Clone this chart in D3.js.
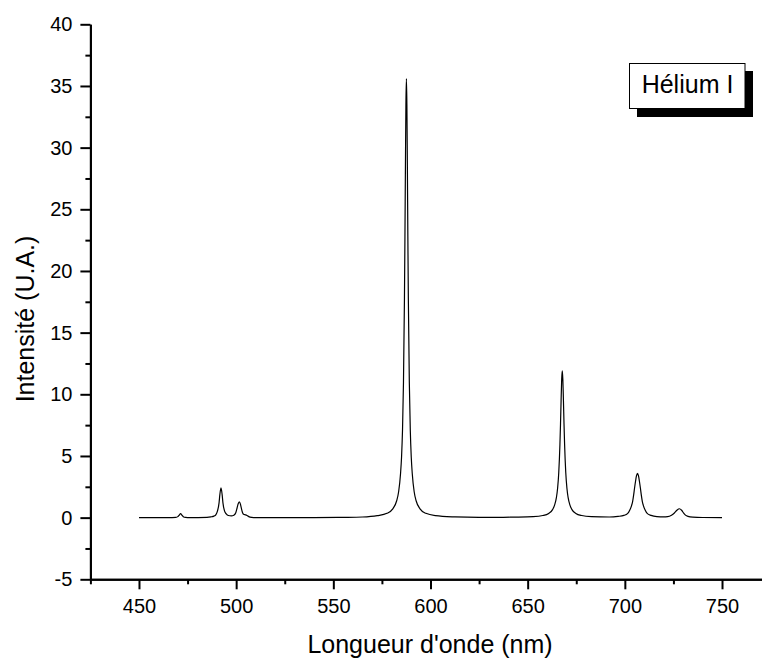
<!DOCTYPE html>
<html>
<head>
<meta charset="utf-8">
<title>Hélium I</title>
<script src="https://cdn.jsdelivr.net/npm/d3@7"></script>
<style>
  body { margin: 0; background: #fff; }
  svg { font-family: "Liberation Sans", Arial, sans-serif; }
</style>
</head>
<body>
<div id="container"></div>
<script>
  // Spectrum: wavelength (nm) and intensity (U.A.)
  const wavelength = [
    450, 465, 469, 470, 470.7, 471.4, 472.1, 472.8, 474, 476,
    485, 487, 488.5, 489.6, 490.4, 491.2, 491.6, 492.2, 492.8, 493.2, 494, 494.9, 496, 497.5,
    498.8, 499.8, 500.5, 501, 501.6, 502.2, 502.7, 503.3, 504, 504.8, 505.6, 506.5, 508, 510,
    540, 555, 565, 572.6, 577.6, 580.6, 582.6, 583.6, 584.6, 585.1, 585.6, 586.1, 586.6, 586.85,
    587.1, 587.35, 587.6, 587.85, 588.1, 588.35, 588.6, 589.1, 589.6, 590.1, 590.6, 591.6,
    592.6, 594.6, 597.6, 602.6, 612.6, 625, 635, 642.8, 652.8, 657.8, 660.8, 662.8, 663.8,
    664.8, 665.4, 666, 666.6, 666.9, 667.2, 667.5, 667.8, 668.1, 668.4, 668.7, 669, 669.6,
    670.2, 670.8, 671.8, 672.8, 674.8, 677.8, 682.8, 692, 696.5, 699.5, 701.5, 702.5, 703.5,
    704, 704.5, 705, 705.5, 706, 706.5, 707, 707.5, 708, 708.5, 709, 709.5, 710.5, 711.5,
    713.5, 716.5, 720, 722, 724, 725.5, 726.8, 728.1, 729.2, 730.2, 731.2, 732.5, 735, 740, 750
  ];
  const intensity = [
    0, 0, 0.02, 0.08, 0.2, 0.32, 0.2, 0.08, 0.02, 0,
    0.02, 0.06, 0.12, 0.25, 0.55, 1.2, 1.85, 2.42, 1.85, 1.2, 0.55, 0.3, 0.17, 0.14,
    0.2, 0.4, 0.8, 1.1, 1.27, 1.1, 0.75, 0.4, 0.25, 0.23, 0.18, 0.08, 0.02, 0,
    0, 0.02, 0.05, 0.16, 0.35, 0.71, 1.37, 2.1, 3.6, 4.9, 7.1, 11.0, 17.8, 22.8,
    28.5, 33.5, 35.6, 33.5, 28.5, 22.8, 17.8, 11.0, 7.1, 4.9, 3.6, 2.1,
    1.37, 0.71, 0.35, 0.16, 0.06, 0.02, 0.02, 0.04, 0.08, 0.17, 0.34, 0.65, 0.99,
    1.64, 2.38, 3.66, 5.95, 7.6, 9.5, 11.2, 11.9, 11.2, 9.5, 7.6, 5.95, 3.66,
    2.38, 1.64, 0.99, 0.65, 0.34, 0.17, 0.08, 0.05, 0.1, 0.18, 0.35, 0.6, 1.0,
    1.3, 1.8, 2.4, 2.95, 3.4, 3.6, 3.4, 2.95, 2.4, 1.8, 1.3, 1.0, 0.6, 0.35,
    0.18, 0.08, 0.06, 0.08, 0.2, 0.38, 0.6, 0.72, 0.6, 0.38, 0.2, 0.1, 0.04, 0.01, 0
  ];

  // Ticks
  const xMajor = [450, 500, 550, 600, 650, 700, 750];
  const xMinor = [425, 475, 525, 575, 625, 675, 725, 775];
  const yMajor = [-5, 0, 5, 10, 15, 20, 25, 30, 35, 40];
  const yMinor = [-2.5, 2.5, 7.5, 12.5, 17.5, 22.5, 27.5, 32.5, 37.5];

  const xLabel = "Longueur d'onde (nm)";
  const yLabel = "Intensité (U.A.)";
  const legendLabel = "Hélium I";

  const width = 762;
  const height = 660;

  const x = d3.scaleLinear().domain([425, 775]).range([90.4, 770.6]);
  const y = d3.scaleLinear().domain([-5, 40]).range([579.3, 24.3]);

  const svg = d3.create("svg")
      .attr("width", width)
      .attr("height", height);

  svg.append("rect").attr("width", width).attr("height", height).attr("fill", "#fff");

  // Spectrum
  const points = wavelength.map((w, i) => [w, intensity[i]]);
  svg.append("path")
      .datum(points)
      .attr("fill", "none")
      .attr("stroke", "#000")
      .attr("stroke-width", 1.2)
      .attr("d", d3.line().x(d => x(d[0])).y(d => y(d[1])).curve(d3.curveMonotoneX));

  // Minor ticks first, then major axes on top
  svg.append("g")
      .attr("transform", `translate(0,${y(-5)})`)
      .call(d3.axisBottom(x).tickValues(xMinor).tickSize(5).tickSizeOuter(0).tickFormat(""));
  svg.append("g")
      .attr("transform", `translate(${x(425)},0)`)
      .call(d3.axisLeft(y).tickValues(yMinor).tickSize(5).tickSizeOuter(0).tickFormat(""));

  svg.append("g")
      .attr("transform", `translate(0,${y(-5)})`)
      .call(d3.axisBottom(x).tickValues(xMajor).tickSize(10).tickSizeOuter(0).tickPadding(10)
        .tickFormat(d => String(d)))
      .call(g => g.selectAll("text").attr("font-size", 20).attr("fill", "#000").attr("font-family", null));
  svg.append("g")
      .attr("transform", `translate(${x(425)},0)`)
      .call(d3.axisLeft(y).tickValues(yMajor).tickSize(10).tickSizeOuter(0).tickPadding(8)
        .tickFormat(d => String(d)))
      .call(g => g.selectAll("text").attr("font-size", 20).attr("fill", "#000").attr("font-family", null));

  svg.selectAll(".domain, .tick line")
      .attr("stroke", "#000")
      .attr("stroke-width", 2);

  // Axis titles
  svg.append("text")
      .attr("x", 430)
      .attr("y", 653)
      .attr("text-anchor", "middle")
      .attr("font-size", 25)
      .text(xLabel);
  svg.append("text")
      .attr("transform", "rotate(-90)")
      .attr("x", -319)
      .attr("y", 33.5)
      .attr("text-anchor", "middle")
      .attr("font-size", 25)
      .text(yLabel);

  // Legend box with shadow
  svg.append("rect")
      .attr("x", 637).attr("y", 71)
      .attr("width", 116).attr("height", 46)
      .attr("fill", "#000");
  svg.append("rect")
      .attr("x", 629.5).attr("y", 63.5)
      .attr("width", 115.5).attr("height", 45)
      .attr("fill", "#fff")
      .attr("stroke", "#000")
      .attr("stroke-width", 1);
  svg.append("text")
      .attr("x", 687.5)
      .attr("y", 93.3)
      .attr("text-anchor", "middle")
      .attr("font-size", 25)
      .text(legendLabel);

  document.getElementById("container").append(svg.node());
</script>
</body>
</html>
